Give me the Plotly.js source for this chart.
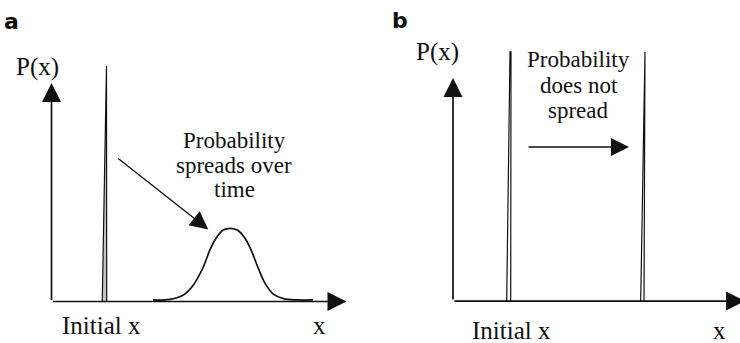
<!DOCTYPE html>
<html>
<head>
<meta charset="utf-8">
<script src="https://cdn.plot.ly/plotly-3.0.1.min.js"></script>
<style>
html, body { margin:0; padding:0; overflow:hidden; background:#fff; width:740px; height:343px; }
#chart { width:752px; height:343px; }
</style>
</head>
<body>
<div id="chart"></div>
<script>
// ---------- data ----------
// panel a: initial narrow distribution (spike) and spread-out distribution
const spikeAx = [1.72, 1.84, 1.864, 1.871];
const spikeAy = [0, 1.078, 1.078, 0];
const spreadX = [3.44, 4.02, 4.47, 4.81, 5.15, 5.37, 5.60, 5.82, 6.05, 6.30, 6.56, 6.79, 7.01, 7.24, 7.52, 7.86, 8.31, 8.87];
const spreadY = [0.007, 0.010, 0.030, 0.076, 0.159, 0.236, 0.294, 0.327, 0.335, 0.327, 0.289, 0.228, 0.152, 0.083, 0.034, 0.013, 0.007, 0.007];
// panel b: initial spike and moved spike (no spreading)
const spikeB1x = [1.82, 1.932, 1.966, 1.956];
const spikeB1y = [0, 1.117, 1.117, 0];
const spikeB2x = [6.363, 6.485, 6.508, 6.475];
const spikeB2y = [0, 1.117, 1.117, 0];
// axes (origin and arrow tips)
const originA = [0, 0], xTipA = [10, 0], yTipA = [0, 1];
const originB = [0, 0], xTipB = [9.9, 0], yTipB = [0, 1];
// explanatory arrows [tail, head]
const arrowA = [[2.21, 0.660], [5.315, 0.330]];
const arrowB = [[2.508, 0.691], [5.966, 0.691]];
// texts
const panelLabels = ['a', 'b'];
const yLabel = 'P(x)';
const xLabels = ['Initial x', 'x'];
const noteA = ['Probability', 'spreads over', 'time'];
const noteB = ['Probability', 'does not', 'spread'];

// ---------- drawing ----------
const ink = '#111111';
const serif = 'Times New Roman, Liberation Serif, Times, serif';

const traces = [
  {x: spikeAx, y: spikeAy, xaxis: 'x', yaxis: 'y', mode: 'lines', fill: 'toself',
   fillcolor: '#c4c4c4', line: {color: ink, width: 1.2}, hoverinfo: 'skip'},
  {x: spreadX, y: spreadY, xaxis: 'x', yaxis: 'y', mode: 'lines',
   line: {color: ink, width: 1.7, shape: 'spline', smoothing: 1}, hoverinfo: 'skip'},
  {x: spikeB1x, y: spikeB1y, xaxis: 'x2', yaxis: 'y2', mode: 'lines',
   line: {color: ink, width: 1.2}, hoverinfo: 'skip'},
  {x: spikeB2x, y: spikeB2y, xaxis: 'x2', yaxis: 'y2', mode: 'lines',
   line: {color: ink, width: 1.2}, hoverinfo: 'skip'}
];

function arrow(xr, yr, tail, head, w, hs) {
  return {xref: xr, yref: yr, axref: xr, ayref: yr,
    x: head[0], y: head[1], ax: tail[0], ay: tail[1],
    text: '', showarrow: true, arrowhead: 2, arrowsize: hs / w, arrowwidth: w,
    arrowcolor: ink, standoff: 0, startstandoff: 0};
}
function label(xr, yr, x, y, text, size) {
  return {xref: xr, yref: yr, x: x, y: y, text: text, showarrow: false,
    xanchor: 'center', yanchor: 'middle', font: {family: serif, size: size, color: ink}};
}

const annotations = [
  // axes
  arrow('x', 'y', originA, xTipA, 1.7, 3.8),
  arrow('x', 'y', originA, yTipA, 1.7, 3.8),
  arrow('x2', 'y2', originB, xTipB, 1.7, 3.8),
  arrow('x2', 'y2', originB, yTipB, 1.7, 3.8),
  // explanatory arrows
  arrow('x', 'y', arrowA[0], arrowA[1], 1.4, 3.6),
  arrow('x2', 'y2', arrowB[0], arrowB[1], 1.4, 3.6),
  // panel labels
  {xref: 'x', yref: 'y', x: -1.34, y: 1.28, text: '<b>' + panelLabels[0] + '</b>', showarrow: false,
   xanchor: 'center', yanchor: 'middle', font: {family: 'DejaVu Sans, sans-serif', size: 22, color: ink}},
  {xref: 'x2', yref: 'y2', x: -1.80, y: 1.26, text: '<b>' + panelLabels[1] + '</b>', showarrow: false,
   xanchor: 'center', yanchor: 'middle', font: {family: 'DejaVu Sans, sans-serif', size: 22, color: ink}},
  // axis labels
  label('x', 'y', -0.49, 1.073, yLabel, 25),
  label('x2', 'y2', -0.51, 1.118, yLabel, 25),
  label('x', 'y', 1.71, -0.111, xLabels[0], 25),
  label('x', 'y', 9.10, -0.111, xLabels[1], 25),
  label('x2', 'y2', 1.99, -0.130, xLabels[0], 25),
  label('x2', 'y2', 9.02, -0.130, xLabels[1], 25),
  // notes
  label('x', 'y', 6.19, 0.738, noteA[0], 23),
  label('x', 'y', 6.19, 0.623, noteA[1], 23),
  label('x', 'y', 6.19, 0.512, noteA[2], 23),
  label('x2', 'y2', 4.27, 1.084, noteB[0], 23),
  label('x2', 'y2', 4.27, 0.967, noteB[1], 23),
  label('x2', 'y2', 4.27, 0.855, noteB[2], 23)
];

const hidden = {visible: false, fixedrange: true, showgrid: false, zeroline: false};
const layout = {
  width: 752, height: 343,
  margin: {l: 0, r: 0, t: 0, b: 0, pad: 0},
  paper_bgcolor: '#ffffff', plot_bgcolor: '#ffffff',
  showlegend: false,
  xaxis: Object.assign({domain: [0, 370 / 752], range: [-1.746, 10.797]}, hidden),
  yaxis: Object.assign({domain: [0, 1], range: [-0.190, 1.380]}, hidden),
  xaxis2: Object.assign({domain: [370 / 752, 1], range: [-2.814, 10.136], anchor: 'y2'}, hidden),
  yaxis2: Object.assign({domain: [0, 1], range: [-0.188, 1.350], anchor: 'x2'}, hidden),
  annotations: annotations
};

Plotly.newPlot('chart', traces, layout, {staticPlot: true, displayModeBar: false});
</script>
</body>
</html>
